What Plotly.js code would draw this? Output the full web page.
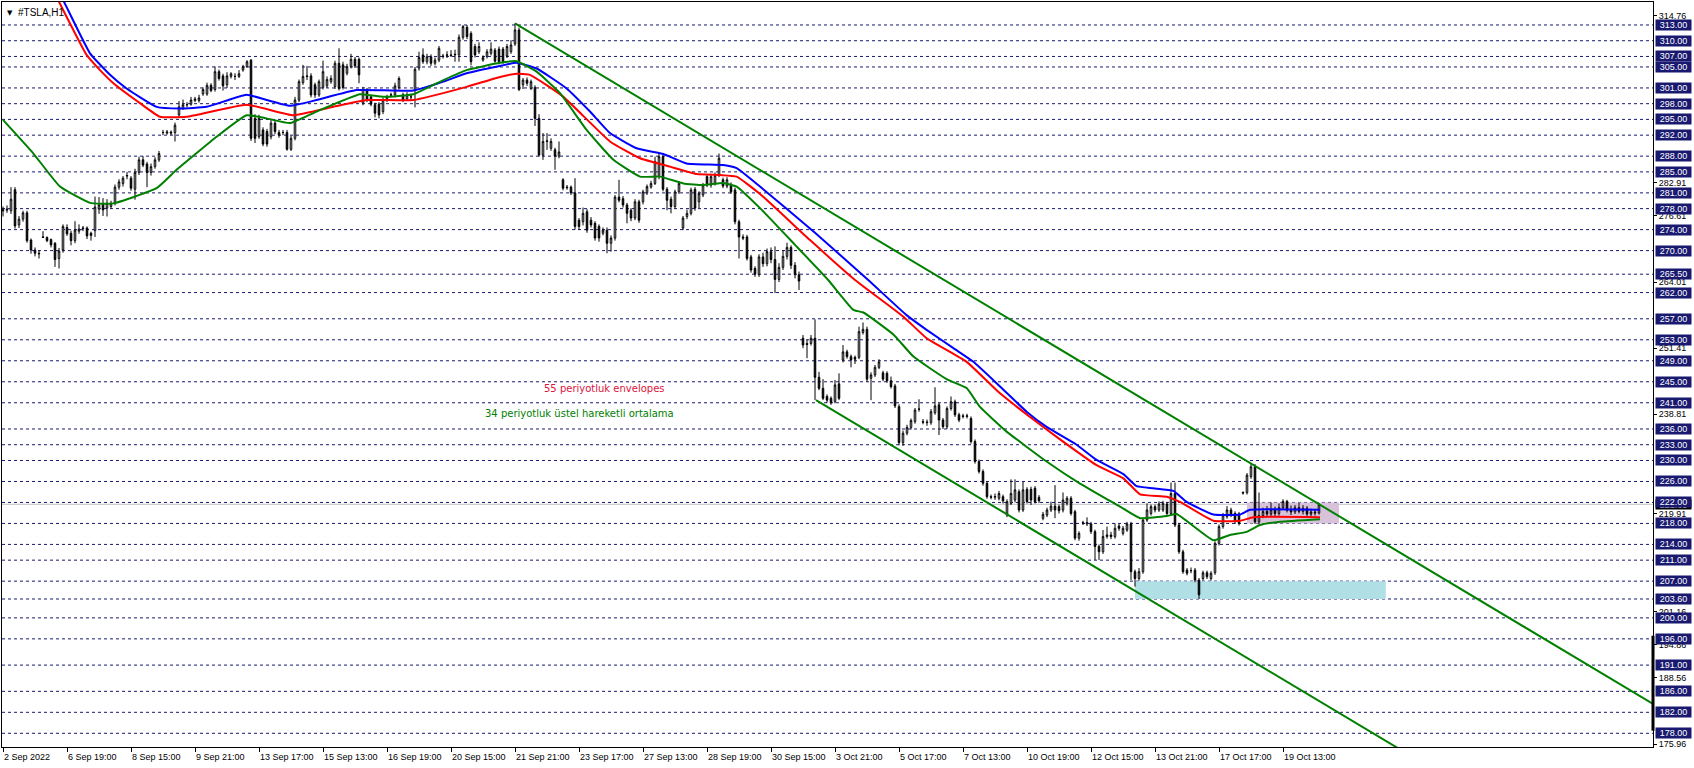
<!DOCTYPE html>
<html><head><meta charset="utf-8">
<script src="https://cdn.plot.ly/plotly-3.0.1.min.js"></script>
<style>html,body{margin:0;padding:0;background:#fff;}#chart{width:1694px;height:768px;}</style>
</head><body><div id="chart"></div>
<script>
const chartTitle = "#TSLA,H1";

const openPrices = [
277.8,277.7,277.6,281.6,274.9,276.0,277.2,272.0,270.1,269.5,272.5,272.5,272.1,271.4,268.5,270.1,274.4,273.3,271.9,273.7,
274.2,274.3,273.3,273.8,277.9,279.0,278.1,278.4,279.0,282.1,282.8,284.2,283.8,281.7,284.9,287.3,286.5,284.9,286.0,287.3,
292.5,292.4,292.6,292.5,295.85,297.1,297.8,297.9,298.6,298.6,299.85,299.85,301.5,300.7,304.1,303.3,301.6,303.2,303.2,303.2,
304.4,305.06,306.3,295.2,291.7,293.0,292.7,291.7,294.3,292.5,292.5,292.5,289.3,291.4,298.7,302.0,303.3,303.3,301.6,299.66,
301.1,301.4,302.2,301.25,305.7,305.4,303.8,305.06,306.45,306.45,298.1,300.6,299.3,297.8,297.9,296.5,298.7,299.6,299.66,301.1,
299.7,298.9,299.3,300.6,304.8,307.3,306.0,306.95,305.7,306.3,307.1,307.2,307.3,307.3,307.3,310.65,312.55,311.4,308.9,307.9,
306.3,307.0,307.6,308.2,308.4,308.4,307.1,307.9,309.4,312.05,301.6,302.5,300.9,301.1,295.2,288.2,290.8,289.5,289.2,288.0,
283.5,282.1,282.1,281.0,275.8,275.5,277.4,275.8,275.2,274.6,273.3,273.9,271.4,272.4,280.2,279.9,278.7,277.7,276.2,279.3,
279.3,281.0,282.1,282.8,284.1,287.9,281.7,279.8,278.4,281.2,274.3,276.5,277.1,281.7,279.3,280.6,284.1,282.5,282.8,284.4,
283.5,282.3,282.5,281.55,275.5,272.6,272.6,268.8,266.6,265.4,268.8,267.5,269.8,268.3,264.5,266.8,268.9,270.6,267.2,265.4,
253.3,252.3,252.3,253.3,245.85,243.75,242.2,241.85,241.2,244.6,249.15,250.7,249.8,249.66,249.66,254.4,255.0,245.66,246.3,247.75,
246.7,246.6,245.2,244.2,240.26,233.4,235.2,236.3,237.4,239.75,237.4,237.2,237.2,239.1,240.6,237.7,236.45,239.9,241.2,238.7,
238.5,238.4,238.0,233.6,229.8,227.9,225.65,223.1,223.0,222.8,
223.1,219.6,221.83,222.47,224.05,220.56,224.5,224.5,224.7,222.975,218.97,219.6,220.56,221.3,221.2,220.56,221.83,222.8,220.24,215.2,
218.15,217.9,217.9,216.43,213.6,212.6,215.5,215.8,215.5,217.5,216.1,216.75,217.9,208.8,207.5,208.8,218.65,219.9,221.2,220.56,
220.56,221.7,219.9,223.7,217.7,212.6,209.1,209.0,209.1,207.2,207.5,208.6,207.5,208.6,214.2,217.4,219.29,220.56,219.9,219.8,
223.9,223.87,226.9,228.8,218.3,219.5,220.3,219.8,220.6,219.9,221.0,222.2,220.5,220.2,221.0,220.3,220.9,219.8,220.2,220.0];

const highPrices = [
278.4,278.6,282.1,282.1,276.6,277.6,277.6,272.3,270.6,270.1,273.7,272.7,272.3,271.6,270.5,275.0,275.0,273.8,275.6,275.0,
274.7,274.6,273.6,280.3,280.2,280.0,279.8,279.5,282.6,283.6,284.2,285.0,284.2,285.6,287.9,288.0,286.9,286.6,287.8,289.0,
293.0,293.0,292.9,294.4,298.5,298.8,298.3,299.3,299.3,299.7,301.1,302.0,301.9,305.1,304.5,303.7,304.0,304.0,303.8,304.4,
305.4,306.3,306.5,296.0,295.9,293.5,293.2,294.9,294.7,293.0,293.0,293.0,291.9,299.3,302.6,305.4,305.2,303.8,302.0,302.6,
306.2,303.2,303.4,306.2,308.55,306.0,305.6,307.5,306.9,306.8,301.2,301.0,299.7,298.2,298.3,299.1,299.7,300.1,302.0,303.2,
300.1,300.2,299.8,305.0,307.9,308.55,307.5,307.4,306.8,309.0,307.5,308.0,308.2,308.3,311.2,313.0,313.0,311.8,309.4,309.7,
307.2,308.4,309.7,308.6,308.9,308.8,309.4,310.1,313.3,312.5,302.9,303.0,302.6,301.5,296.0,292.4,292.4,291.4,289.6,290.8,
283.8,282.5,282.4,283.8,276.2,278.2,277.9,276.4,275.6,275.0,274.4,274.4,272.9,280.6,283.5,280.4,279.1,278.1,279.8,279.7,
281.6,282.6,283.3,287.9,288.4,288.2,282.1,280.3,281.6,283.2,276.6,277.8,282.0,282.1,281.3,282.9,284.5,284.6,284.9,288.5,
283.9,284.0,283.0,282.0,275.9,273.1,273.0,269.2,267.0,269.3,269.6,270.4,270.6,270.8,267.6,270.1,271.5,271.0,267.8,266.0,
253.9,253.0,253.9,256.9,246.9,245.5,242.6,242.2,245.34,246.6,252.0,251.1,250.2,250.0,255.5,256.3,255.5,246.8,248.2,249.3,
247.1,247.0,246.0,244.6,240.7,235.7,236.8,238.0,240.0,241.66,237.9,237.8,239.8,243.95,241.0,238.1,240.3,242.2,241.6,239.1,
238.9,238.9,238.4,234.0,230.2,228.3,226.0,223.5,223.7,224.2,
223.5,222.6,226.4,226.4,224.5,225.9,224.9,225.0,225.1,223.4,220.2,221.0,222.15,225.3,221.6,223.9,223.2,223.2,220.6,216.5,
218.5,219.16,218.3,216.8,214.0,216.75,217.4,216.4,218.0,217.9,217.5,218.3,218.3,209.2,209.5,219.1,221.83,221.6,221.6,222.2,
222.3,222.1,225.8,225.8,218.1,213.0,209.5,209.6,209.5,207.6,209.0,209.0,208.9,214.6,217.8,220.0,221.3,221.0,220.3,220.2,
224.1,227.6,229.5,229.3,223.9,221.0,221.3,222.0,221.2,221.8,222.6,222.5,221.4,221.5,221.9,221.5,221.3,220.8,220.7,221.9];

const lowPrices = [
276.5,277.2,277.0,274.2,274.3,275.5,271.5,269.4,268.9,268.5,272.4,271.6,270.6,266.9,266.6,269.6,272.8,271.0,271.4,273.2,
273.7,272.2,271.9,272.6,277.0,276.6,276.5,278.0,278.6,281.6,282.2,283.6,281.4,279.7,284.4,285.9,282.1,284.3,285.6,286.9,
292.0,292.1,292.0,290.8,295.5,296.8,297.3,297.6,298.3,298.2,299.5,299.5,300.2,300.3,302.4,300.5,301.0,302.8,302.5,302.9,
304.1,304.8,290.9,290.5,291.3,289.9,289.8,291.2,292.2,291.5,292.0,289.05,289.0,291.0,298.3,301.6,302.5,299.2,299.1,299.3,
300.7,301.0,301.8,300.8,300.5,300.7,303.4,304.7,304.8,301.9,297.7,298.3,297.5,295.4,295.2,296.0,298.3,299.2,299.2,300.7,
298.3,298.5,298.7,297.3,304.3,305.6,305.5,305.2,305.3,305.9,306.6,306.7,306.9,306.0,306.0,310.2,310.3,305.3,306.8,307.5,
306.0,306.6,307.2,305.8,305.5,305.6,306.7,307.5,309.0,300.4,300.8,301.4,300.6,293.75,287.9,287.3,289.2,289.0,285.4,287.6,
281.5,281.6,280.6,274.0,274.0,274.8,273.4,274.4,271.9,271.7,272.9,269.5,269.8,271.9,279.2,278.2,275.2,275.6,275.8,275.3,
278.8,280.6,281.8,282.5,283.6,281.3,277.7,277.1,278.0,280.8,273.9,276.0,276.7,277.6,278.1,280.2,282.1,282.0,282.4,284.0,
281.9,281.9,280.8,275.0,268.5,272.0,268.1,265.8,265.0,265.0,266.9,267.0,267.6,261.9,264.0,266.3,268.3,266.5,264.7,262.5,
251.4,249.5,251.9,241.5,243.4,241.5,241.0,240.6,240.9,241.5,248.7,249.4,247.75,248.4,249.3,254.0,245.0,241.5,245.9,247.4,
245.1,244.8,243.7,240.0,232.9,232.8,234.8,235.9,237.0,239.3,236.9,236.6,236.8,238.7,234.85,236.0,236.0,239.5,238.3,237.3,
238.0,238.0,233.2,229.4,227.5,225.2,222.7,222.6,222.5,222.4,
221.8,219.2,221.5,222.0,220.1,220.2,221.8,221.5,221.8,221.9,218.6,219.2,220.2,219.0,219.9,220.1,221.4,219.5,214.8,214.7,
217.7,217.5,216.0,211.03,211.03,212.2,215.1,215.0,215.1,216.6,215.7,216.4,207.2,205.95,207.1,208.4,218.3,219.5,220.1,220.2,
220.2,219.5,219.5,217.3,212.2,208.4,208.1,208.5,206.8,203.6,207.1,207.4,207.1,208.2,213.8,217.0,218.9,219.2,217.9,217.6,
223.5,223.5,226.5,217.9,217.8,219.0,219.3,219.2,219.4,219.5,220.6,220.1,219.6,219.8,219.9,219.7,219.4,219.3,219.5,219.7];

const closePrices = [
277.6,277.9,279.8,274.7,276.0,277.2,271.9,270.1,269.5,269.4,272.6,271.9,271.1,268.3,269.9,274.6,273.2,271.9,273.9,274.1,
274.3,272.8,272.9,278.3,278.7,277.75,279.0,279.0,282.1,283.1,283.8,284.3,281.9,284.9,287.3,286.3,284.9,286.0,287.3,288.5,
292.5,292.6,292.4,293.9,297.4,297.8,297.8,298.7,298.9,299.1,300.7,301.5,300.5,304.1,302.8,301.4,303.3,303.7,303.2,303.7,
305.06,306.0,291.4,291.4,295.2,290.3,290.3,294.3,292.7,292.0,292.5,289.3,291.4,298.7,302.2,303.2,303.2,299.66,299.66,302.2,
304.1,302.6,302.8,305.7,300.9,301.1,305.06,306.45,305.2,303.5,300.7,298.7,297.9,296.2,295.85,298.7,299.3,299.7,301.4,302.8,
298.7,299.66,299.3,304.55,306.8,306.0,306.95,305.7,306.3,308.55,307.0,307.3,307.2,307.4,310.65,312.7,310.8,306.0,307.3,308.9,
306.8,307.9,308.4,306.1,306.0,306.0,308.9,309.2,312.05,300.7,302.5,301.9,302.2,295.2,288.2,290.8,290.9,290.8,288.0,288.8,
281.9,282.0,281.0,274.6,274.6,277.1,273.9,274.9,272.4,272.4,273.9,271.4,272.4,280.2,279.6,278.7,277.1,276.2,279.3,275.8,
281.2,282.2,282.8,287.0,287.9,281.7,279.6,278.4,281.2,282.8,276.2,277.1,281.55,278.1,280.9,282.5,282.5,284.1,284.4,287.6,
282.3,283.5,281.2,275.5,272.6,272.4,268.5,266.3,265.5,268.8,267.5,269.8,268.3,264.5,266.8,268.9,270.6,267.2,265.4,264.2,
252.0,252.1,253.3,245.85,243.75,241.85,241.5,241.0,244.4,241.85,250.7,249.8,249.15,249.3,254.55,255.0,245.5,246.3,247.75,248.8,
245.5,245.2,244.07,240.4,233.4,235.2,236.3,237.6,239.6,239.8,237.3,237.3,239.3,240.4,237.7,236.45,239.9,241.2,238.7,237.7,
238.4,238.5,233.6,229.8,227.9,225.65,223.1,223.0,223.1,223.7,
222.3,222.15,223.7,224.4,220.56,224.4,222.15,222.47,222.15,222.34,219.73,220.56,221.3,220.56,220.43,222.47,222.8,219.9,215.2,216.1,
218.1,218.15,216.43,213.6,212.6,215.5,215.8,215.5,217.07,217.07,217.07,217.9,208.8,207.5,208.8,218.65,220.56,221.2,220.56,221.7,
221.83,219.9,223.7,217.7,212.6,208.8,208.5,209.0,207.2,204.4,208.6,207.85,208.5,214.2,217.4,219.6,220.56,219.6,218.34,218.0,
223.8,227.2,228.8,218.3,219.5,220.3,219.8,220.6,219.9,221.0,222.2,220.5,220.2,221.0,220.3,220.9,219.8,220.2,220.0,221.6];

// envelope upper (blue), envelope lower (red), EMA34 (green): [bar index, price]
const envUpperX = [12,15,21.75,26.75,30.9,38.4,44.25,50.9,60.9,65.9,71.75,78.4,88.4,102.6,110.1,115.9,124.25,128.4,133.4,140.9,146.75,151.75,158.4,165.1,170.9,180.1,183.4,189.25,203,216.3,225.9,230.9,237.6,242.6,249.25,255.9,260.9,268.4,273.4,280.1,283.4,287.6,292.6,295.9,302.6,309.25,311.75,329.25];
const envUpperY = [322,317.8,307.6,303.5,300.9,297.4,297.1,297.4,299.7,298.7,297.6,298.7,300.6,300.5,302.2,303.8,305.2,305.8,304.7,300.9,296.5,292.4,289.5,288.4,286.6,286.3,285.7,282.2,273.4,264.4,257.7,254.9,251.4,248.8,244.1,239.3,236.4,233.0,230.1,227.4,225.1,224.7,224.2,222.1,219.7,219.7,220.6,220.6];
const envLowerX = [11,13.75,20.9,24.25,27.6,34.25,39.25,45.9,60.9,72.6,82.6,90.9,102.6,115.9,124.25,128.4,131.75,140.1,151.75,159.25,166.75,173.4,179.25,183.4,189.25,201.75,213,225.1,230.9,240.9,249.25,256.75,263.4,273.4,280.1,284.25,290.9,294.25,302.6,309.25,312.6,329.25];
const envLowerY = [322,317.8,307.3,304.4,301.9,298.1,295.5,295.5,297.8,295.8,297.4,298.7,298.7,301.2,303.1,303.7,303.5,299.3,290.8,287.6,286.0,284.6,284.4,284.1,280.8,272.0,264.4,257.4,253.3,248.8,242.8,238.3,234.5,229.1,226.6,223.55,223.1,222.1,218.5,218.5,219.2,219.2];
const emaX = [0,7.6,14.25,21.75,27.6,38.4,43.4,53.4,60.9,65.9,71.75,78.4,89.25,95.1,102.6,110.1,115.9,124.25,128.4,133.4,139.25,145.9,152.6,159.25,164.25,170.1,175.1,180.1,183.4,189.25,198,206.3,212.6,215.1,222.6,227.6,235.9,240.9,244.25,250.9,260.9,269.25,279.25,284.25,290.9,293.4,302.6,306.75,310.9,314.25,319.25,329.25];
const emaY = [294.9,288.5,282.2,279.1,279.0,281.9,285.4,291.7,295.8,295.2,294.3,296.5,299.8,299.3,299.8,302.5,304.4,305.8,306.1,304.1,300.0,293.0,287.3,284.1,284.1,282.8,282.5,282.9,282.2,278.1,271.1,264.4,258.7,258.2,254.0,249.8,245.5,243.8,240.2,235.5,229.8,225.6,221.2,219.0,219.4,219.8,214.8,215.8,216.4,217.7,218.3,218.8];

// channel trend lines
const channelUpperX = [128, 412.5];
const channelUpperY = [313.3, 183.6];
const channelLowerX = [203.25, 412.5];
const channelLowerY = [241.5, 146.1];

// horizontal level lines (right axis boxes)
const levels = [313,310,307,305,301,298,295,292,288,285,281,278,274,270,265.5,262,257,253,249,245,241,236,233,230,226,222,218,214,211,207,203.6,200,196,191,186,182,178];
// axis price scale labels
const scaleTicks = [314.76,282.91,276.61,264.01,251.41,238.81,219.91,201.16,194.86,188.56,175.96];
const bidPrice = 221.65;

// zones
const supportZone = {x0: 283, x1: 345.7, y0: 203.6, y1: 207};
const consolidationZone = {x0: 311, x1: 334, y0: 218, y1: 222};

// time axis
const timeTickBars = [0,16,32,48,64,80,96,112,128,144,160,176,192,208,224,240,256,272,288,304,320];
const timeTickLabels = ["2 Sep 2022","6 Sep 19:00","8 Sep 15:00","9 Sep 21:00","13 Sep 17:00","15 Sep 13:00","16 Sep 19:00","20 Sep 15:00","21 Sep 21:00","23 Sep 17:00","27 Sep 13:00","28 Sep 19:00","30 Sep 15:00","3 Oct 21:00","5 Oct 17:00","7 Oct 13:00","10 Oct 19:00","12 Oct 15:00","13 Oct 21:00","17 Oct 17:00","19 Oct 13:00"];

const noteEnvelope = {text: "55 periyotluk envelopes", bar: 134.75, price: 243.66};
const noteEma = {text: "34 periyotluk üstel hareketli ortalama", bar: 120, price: 238.86};

const barIndex = openPrices.map((_, i) => i);
const FONT = "Liberation Sans, Arial, sans-serif";
const NOTE_FONT = "DejaVu Sans, Verdana, sans-serif";

const traces = [
  {type: 'candlestick', x: barIndex, open: openPrices, high: highPrices, low: lowPrices, close: closePrices,
   increasing: {line: {color: '#000000', width: 1}, fillcolor: '#ffffff'},
   decreasing: {line: {color: '#000000', width: 1}, fillcolor: '#000000'},
   whiskerwidth: 0, hoverinfo: 'skip', showlegend: false},
  {type: 'scatter', mode: 'lines', x: envUpperX, y: envUpperY, line: {color: '#0000ff', width: 2, shape: 'spline', smoothing: 0.4}, hoverinfo: 'skip', showlegend: false},
  {type: 'scatter', mode: 'lines', x: envLowerX, y: envLowerY, line: {color: '#ff0000', width: 2, shape: 'spline', smoothing: 0.4}, hoverinfo: 'skip', showlegend: false},
  {type: 'scatter', mode: 'lines', x: emaX, y: emaY, line: {color: '#008000', width: 2, shape: 'spline', smoothing: 0.4}, hoverinfo: 'skip', showlegend: false},
  {type: 'scatter', mode: 'lines', x: channelUpperX, y: channelUpperY, line: {color: '#008000', width: 2}, hoverinfo: 'skip', showlegend: false},
  {type: 'scatter', mode: 'lines', x: channelLowerX, y: channelLowerY, line: {color: '#008000', width: 2}, hoverinfo: 'skip', showlegend: false}
];

const shapes = [
  {type: 'rect', xref: 'x', yref: 'y', x0: supportZone.x0, x1: supportZone.x1, y0: supportZone.y0, y1: supportZone.y1, fillcolor: '#b0e0e6', line: {width: 0}, layer: 'below'},
  {type: 'rect', xref: 'x', yref: 'y', x0: consolidationZone.x0, x1: consolidationZone.x1, y0: consolidationZone.y0, y1: consolidationZone.y1, fillcolor: '#d8c2da', line: {width: 0}, layer: 'below'},
  {type: 'line', xref: 'paper', yref: 'y', x0: 0, x1: 1, y0: bidPrice, y1: bidPrice, line: {color: '#c0c0c0', width: 1}, layer: 'below'}
];
levels.forEach(lv => shapes.push({type: 'line', xref: 'paper', yref: 'y', x0: 0, x1: 1, y0: lv, y1: lv,
  line: {color: '#191970', width: 1, dash: '3px,3px'}, layer: 'below'}));
shapes.push({type: 'line', xref: 'paper', yref: 'y', x0: 1, x1: 1, y0: 196.6, y1: 178.5, line: {color: '#000000', width: 3}});

const annotations = [];
annotations.push({xref: 'paper', yref: 'paper', x: 0, y: 1, xanchor: 'left', yanchor: 'top', xshift: 3, yshift: -5,
  text: '▼', showarrow: false, font: {family: 'DejaVu Sans, sans-serif', size: 7, color: '#000'}});
annotations.push({xref: 'paper', yref: 'paper', x: 0, y: 1, xanchor: 'left', yanchor: 'top', xshift: 14, yshift: -3,
  text: chartTitle, showarrow: false, font: {family: FONT, size: 10, color: '#000'}});
annotations.push({xref: 'x', yref: 'y', x: noteEnvelope.bar, y: noteEnvelope.price, xanchor: 'left', yanchor: 'middle',
  text: noteEnvelope.text, showarrow: false, font: {family: NOTE_FONT, size: 10, color: '#dc143c'}});
annotations.push({xref: 'x', yref: 'y', x: noteEma.bar, y: noteEma.price, xanchor: 'left', yanchor: 'middle',
  text: noteEma.text, showarrow: false, font: {family: NOTE_FONT, size: 10, color: '#008000'}});
timeTickBars.forEach((b, i) => annotations.push({xref: 'x', yref: 'paper', x: b, y: 0, xanchor: 'left', yanchor: 'top',
  xshift: -1, yshift: -3, text: timeTickLabels[i], showarrow: false, font: {family: FONT, size: 9, color: '#000'}}));
annotations.push({xref: 'paper', yref: 'y', x: 1, y: bidPrice, xanchor: 'left', yanchor: 'middle', xshift: 2,
  text: bidPrice.toFixed(2), showarrow: false, bgcolor: '#000000', width: 35, height: 9, borderpad: 0,
  font: {family: FONT, size: 9, color: '#fff'}});
levels.forEach(lv => annotations.push({xref: 'paper', yref: 'y', x: 1, y: lv, xanchor: 'left', yanchor: 'middle', xshift: 2,
  text: lv.toFixed(2), showarrow: false, bgcolor: '#191970', width: 35, height: 10, borderpad: 0, align: 'center',
  font: {family: FONT, size: 9, color: '#ffffff'}}));

const layout = {
  width: 1694, height: 768,
  margin: {l: 2, r: 41, t: 2, b: 21, pad: 0},
  paper_bgcolor: '#ffffff', plot_bgcolor: '#ffffff',
  font: {family: FONT, size: 9, color: '#000'},
  showlegend: false, hovermode: false, boxgap: 0.45,
  xaxis: {range: [-0.25, 412.5], showgrid: false, zeroline: false, showline: true, mirror: true,
    linecolor: '#000', linewidth: 1, tickvals: timeTickBars, ticktext: timeTickBars.map(() => ''),
    ticks: 'outside', ticklen: 4, tickcolor: '#000', showticklabels: false,
    rangeslider: {visible: false}, fixedrange: true},
  yaxis: {range: [175.39, 317.38], side: 'right', showgrid: false, zeroline: false, showline: true, mirror: true,
    linecolor: '#000', linewidth: 1, tickvals: scaleTicks, ticktext: scaleTicks.map(v => v.toFixed(2)),
    ticks: 'outside', ticklen: 3, tickcolor: '#000', tickfont: {family: FONT, size: 9, color: '#000'}, fixedrange: true},
  shapes: shapes,
  annotations: annotations
};

Plotly.newPlot('chart', traces, layout, {displayModeBar: false, staticPlot: true});
</script>
</body></html>
